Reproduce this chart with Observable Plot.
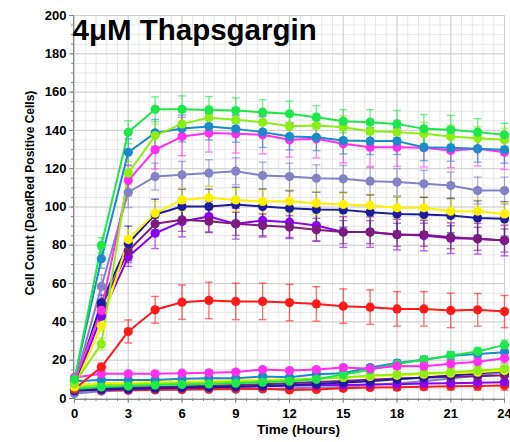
<!DOCTYPE html>
<html>
<head>
<meta charset="utf-8">
<script src="https://cdn.jsdelivr.net/npm/d3@7"></script>
<script src="https://cdn.jsdelivr.net/npm/@observablehq/plot@0.6"></script>
<style>
  html, body { margin: 0; padding: 0; background: #fff; }
  #chart { width: 510px; height: 442px; }
</style>
</head>
<body>
<div id="chart"></div>
<script>
// ---- data ----
const times = [0, 1.5, 3, 4.5, 6, 7.5, 9, 10.5, 12, 13.5, 15, 16.5, 18, 19.5, 21, 22.5, 24];
const xTicks = [0, 3, 6, 9, 12, 15, 18, 21, 24];
const yTicks = [0, 20, 40, 60, 80, 100, 120, 140, 160, 180, 200];
const title = "4μM Thapsgargin";
const xLabel = "Time (Hours)";
const yLabel = "Cell Count (DeadRed Positive Cells)";

const seriesNames = ["green", "chartreuse", "blue", "magenta", "lavender", "yellow", "navy", "purple", "violet", "red",
  "magentaLow", "greenLow", "blueLow", "chartreuseLow", "yellowLow", "navyLow", "purpleLow", "violetLow", "redLow", "lavenderLow"];
const seriesColors = ["#1de84a", "#8cef14", "#1a8acb", "#ff2ef0", "#8282c4", "#fff000", "#1c1c9c", "#7c1c7c", "#8a00f0", "#ff1a1a",
  "#ff2ef0", "#1de84a", "#1a8acb", "#8cef14", "#fff000", "#1c1c9c", "#7c1c7c", "#8a00f0", "#ff1a1a", "#8282c4"];

const green      = [10, 80, 139, 151, 151, 150.7, 150.4, 149.5, 148.7, 146.9, 144.8, 144.3, 143.4, 140.8, 140.3, 139.1, 137.7];
const chartreuse = [8, 28.5, 117.7, 137.3, 143.4, 146.6, 145.5, 144.3, 142.2, 142.6, 141.7, 139.6, 139.1, 138.2, 136.8, 135.9, 135.1];
const blue       = [10, 73, 128.6, 138.7, 141, 142, 140.8, 139.1, 136.8, 136.4, 134.7, 134.4, 134.4, 131.2, 130.9, 130.4, 129.9];
const magenta    = [9, 46, 113.8, 129.9, 136.8, 138.7, 138.2, 137.7, 135.1, 135.6, 133, 131.2, 131.2, 130.9, 129.5, 130.4, 128.6];
const lavender   = [8, 58.5, 107.7, 115.9, 116.8, 117.7, 118.7, 116.4, 115.9, 115, 114.7, 113.5, 113, 112.1, 111.2, 108.6, 108.6];
const yellow     = [6, 38, 83, 96.8, 103.7, 104.8, 103.7, 102.9, 103, 102, 101.3, 100.8, 99.6, 99.6, 97.8, 97.8, 96.4];
const navy       = [7, 50, 81, 96.1, 100.3, 100.3, 101.3, 100.3, 99.4, 98.7, 98.5, 97.3, 96.4, 96.1, 95.6, 94.2, 93.8];
const purple     = [7, 48, 77, 91.2, 93.3, 92.6, 91.2, 90.3, 89.5, 88.1, 86.9, 86.9, 85.5, 85.5, 84.2, 83.4, 82.5];
const violet     = [6, 43, 74, 86.3, 92.4, 95, 91.2, 93, 92.1, 90.3, 86.9, 86.9, 85.6, 85.1, 83.7, 83.4, 82.5];
const red        = [5, 16.4, 35, 46.3, 50.3, 51.2, 50.7, 50.7, 50.1, 49.4, 48.2, 47.7, 46.8, 46.8, 46, 46.3, 45.4];

const magentaLow    = [11, 12.9, 12.9, 12.9, 13.2, 13.4, 13.8, 15.1, 14.6, 15.1, 16.2, 15.5, 17, 16.9, 18.1, 19.2, 21];
const greenLow      = [5, 6, 6.5, 7, 7.3, 7.6, 8, 8.5, 9, 10, 12.5, 15, 18, 20.2, 22.5, 24.5, 28];
const blueLow       = [9, 9.7, 9.6, 9.6, 10.3, 10.6, 10.6, 11.5, 11.1, 12.7, 13.2, 16.2, 18.5, 20.2, 22.3, 23.3, 24.2];
const chartreuseLow = [6, 7, 7.3, 7.8, 8.1, 8.4, 8.8, 9.2, 9.6, 10.3, 11, 12, 12.5, 13.2, 13.7, 14.6, 15.5];
const yellowLow     = [7, 8, 8.3, 8.6, 8.8, 9, 9.4, 9.6, 10, 10.4, 11, 11.5, 12.2, 12.7, 13.2, 13.7, 14.6];
const navyLow       = [4, 4.8, 5.1, 5.4, 5.7, 5.9, 6.1, 6.5, 7, 7.6, 8.3, 9, 10, 11, 12, 13, 14.4];
const purpleLow     = [5, 5.5, 5.8, 6, 6.3, 6.6, 7, 7.5, 8, 8.6, 9.2, 9.8, 10.4, 10.8, 11.3, 11.6, 12.2];
const violetLow     = [4, 4.6, 5, 5.3, 5.6, 5.9, 6.1, 6.4, 6.7, 6.9, 7.1, 7.3, 7.5, 7.8, 8, 8.2, 8.5];
const redLow        = [4.5, 4.3, 4.5, 4.6, 4.8, 5, 5.1, 5.1, 4.5, 4.7, 5.3, 5.8, 5.9, 6.2, 6.4, 6.5, 6.8];
const lavenderLow   = [2.6, 3.8, 4.2, 4.5, 4.6, 4.7, 4.8, 5, 5.3, 5.6, 6, 7, 8, 9, 10.5, 12, 13.7];

// standard deviations (error bars)
const greenSd      = [1, 4, 6, 6.5, 7, 7, 6.6, 6.5, 6.5, 6, 6, 6.5, 7, 7.5, 7.5, 7, 6];
const chartreuseSd = [1, 3, 6, 6, 6, 6, 6, 6, 6, 6, 6, 6, 6, 6, 6, 6, 6];
const blueSd       = [1, 5, 7, 7, 7, 7, 7, 8, 7, 7, 7, 7, 7, 7, 7, 7, 7];
const magentaSd    = [1, 4, 8, 10, 10, 10, 10, 10, 9, 10, 10, 10, 10, 10, 9, 9, 9];
const lavenderSd   = [1, 6, 8, 7, 7, 7, 7, 7, 7, 7, 7, 7, 7, 7, 7, 7, 7];
const yellowSd     = [1, 3, 5, 6, 6, 6, 6, 6, 6, 6, 6, 6, 6, 6, 6, 6, 6];
const navySd       = [1, 4, 9, 8, 9, 9, 9, 9, 9, 9, 9, 9, 9, 9, 9, 9, 9];
const purpleSd     = [1, 3, 6, 6, 6, 6, 6, 6, 6, 6, 6, 6, 6, 6, 6, 6, 6];
const violetSd     = [1, 4, 5, 8, 8, 8, 8, 8, 8, 8, 8, 8, 8, 8, 8, 8, 8];
const redSd        = [1, 2, 6, 7, 9, 9.5, 9.5, 9.5, 9.5, 9, 9, 9, 9, 9, 9, 8.5, 8.4];
const lowSd        = [0.8, 0.8, 0.8, 0.8, 0.8, 0.8, 0.8, 0.9, 0.9, 1, 1.2, 1.4, 1.6, 1.8, 2, 2.2, 2.5];

// ---- build table ----
const valueArrays = [green, chartreuse, blue, magenta, lavender, yellow, navy, purple, violet, red,
  magentaLow, greenLow, blueLow, chartreuseLow, yellowLow, navyLow, purpleLow, violetLow, redLow, lavenderLow];
const sdArrays = [greenSd, chartreuseSd, blueSd, magentaSd, lavenderSd, yellowSd, navySd, purpleSd, violetSd, redSd,
  lowSd, lowSd, lowSd, lowSd, lowSd, lowSd, lowSd, lowSd, lowSd, lowSd];

const rows = [];
seriesNames.forEach((name, i) => {
  times.forEach((t, j) => {
    const v = valueArrays[i][j], sd = sdArrays[i][j];
    rows.push({series: name, color: seriesColors[i], t, v, lo: v - sd, hi: v + sd});
  });
});
const order = [...seriesNames.slice(10).reverse(), ...seriesNames.slice(0, 10).reverse()];
rows.sort((a, b) => order.indexOf(a.series) - order.indexOf(b.series));

const capSymbol = {
  draw(ctx, size) {
    const w = Math.sqrt(size) / 2;
    ctx.moveTo(-w, 0);
    ctx.lineTo(w, 0);
  }
};

const minorX = d3.range(0, 24.001, 0.6);
const minorY = d3.range(0, 200.001, 5);

const chart = Plot.plot({
  width: 510,
  height: 442,
  marginLeft: 74,
  marginRight: 6,
  marginTop: 15,
  marginBottom: 44,
  x: {domain: [0, 24], label: null},
  y: {domain: [0, 200], label: null},
  color: {type: "identity"},
  style: {fontFamily: "'Liberation Sans', Arial, sans-serif", fontSize: "13px", fontWeight: "bold", color: "#000", background: "#fff"},
  marks: [
    Plot.gridX(minorX, {stroke: "#e8e8e8", strokeOpacity: 1}),
    Plot.gridY(minorY, {stroke: "#e8e8e8", strokeOpacity: 1}),
    Plot.gridX(xTicks, {stroke: "#cfcfcf", strokeOpacity: 1}),
    Plot.gridY(yTicks, {stroke: "#cfcfcf", strokeOpacity: 1}),
    Plot.axisX(minorX, {tickSize: 3, tickFormat: () => "", stroke: "#888"}),
    Plot.axisY(minorY, {tickSize: 3, tickFormat: () => "", stroke: "#888"}),
    Plot.axisX(xTicks, {tickSize: 5, tickPadding: 5, stroke: "#888", fill: "#000"}),
    Plot.axisY(yTicks, {tickSize: 5, tickPadding: 3, stroke: "#888", fill: "#000"}),
    Plot.ruleX([0], {stroke: "#888", dx: -1}),
    Plot.ruleY([0], {stroke: "#888", dy: 1}),
    // error bars
    Plot.ruleX(rows, {x: "t", y1: "lo", y2: "hi", stroke: "color", strokeOpacity: 0.6, strokeWidth: 1.4}),
    Plot.dot(rows, {x: "t", y: "lo", symbol: capSymbol, r: 4.5, stroke: "color", strokeOpacity: 0.6, strokeWidth: 1.4, fill: "none"}),
    Plot.dot(rows, {x: "t", y: "hi", symbol: capSymbol, r: 4.5, stroke: "color", strokeOpacity: 0.6, strokeWidth: 1.4, fill: "none"}),
    // lines and points
    Plot.line(rows, {x: "t", y: "v", z: "series", stroke: "color", strokeWidth: 2}),
    Plot.dot(rows, {x: "t", y: "v", fill: "color", r: 4.6}),
    // labels
    Plot.text([title], {frameAnchor: "top-left", dx: -2, dy: 4, lineAnchor: "top", textAnchor: "start", fontSize: 29.5, fontWeight: "bold", fill: "#000"}),
    Plot.text([yLabel], {frameAnchor: "left", rotate: -90, dx: -44, dy: -14, textAnchor: "middle", fontSize: 12, fontWeight: "bold", fill: "#000"}),
    Plot.text([xLabel], {frameAnchor: "bottom", dx: 9, dy: 35, textAnchor: "middle", fontSize: 13.5, fontWeight: "bold", fill: "#000"})
  ]
});
document.getElementById("chart").appendChild(chart);
</script>
</body>
</html>
